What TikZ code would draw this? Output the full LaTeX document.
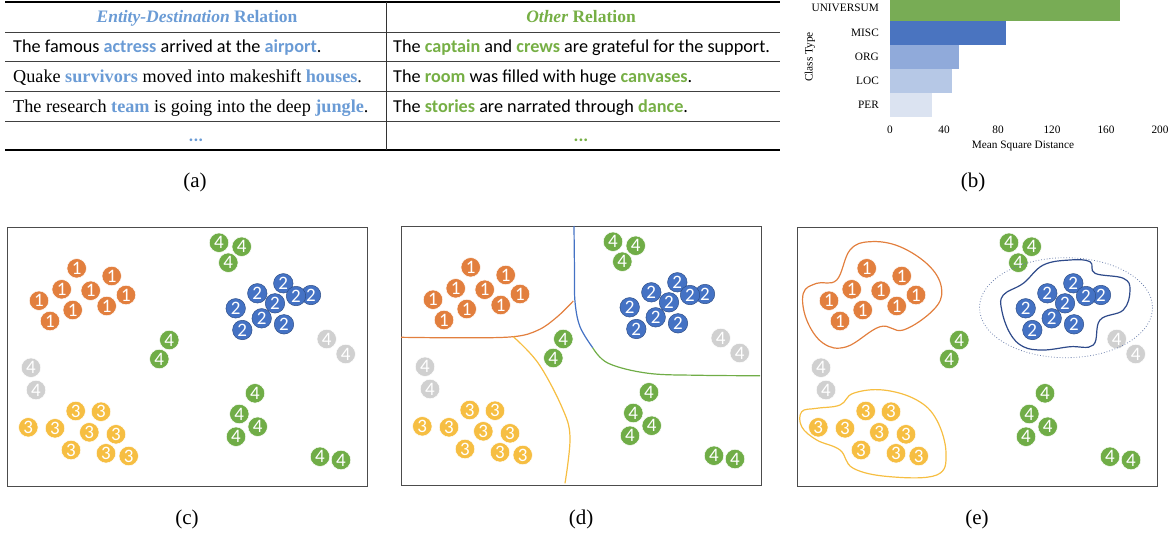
\documentclass[tikz,border=0pt]{standalone}
\usepackage{fontspec}
\setmainfont{Liberation Serif}
\newfontfamily\carlito{Carlito}
\definecolor{tblue}{HTML}{6A9BD5}
\definecolor{tgreen}{HTML}{76AF45}
\definecolor{oC}{HTML}{E27F3E}
\definecolor{bC}{HTML}{4472C4}
\definecolor{yC}{HTML}{F6BE42}
\definecolor{gC}{HTML}{70AD47}
\definecolor{grC}{HTML}{D0D0D0}
\definecolor{navy}{HTML}{2E4A8A}
\definecolor{barG}{HTML}{78AC55}
\definecolor{barB1}{HTML}{4A74C0}
\definecolor{barB2}{HTML}{90AADA}
\definecolor{barB3}{HTML}{B6C8E6}
\definecolor{barB4}{HTML}{DBE3F1}
\newcommand\hb[1]{\textbf{\color{tblue}#1}}
\newcommand\hg[1]{\textbf{\color{tgreen}#1}}
\tikzset{
  ball/.style={circle, minimum size=19.5pt, inner sep=0pt, text=white,
    font=\carlito\fontsize{19}{19}\selectfont, draw=white, line width=0.5pt},
  d1/.style={ball, fill=oC},
  d2/.style={ball, fill=bC, draw=bC!70!black},
  d3/.style={ball, fill=yC},
  d4/.style={ball, fill=gC},
  d5/.style={ball, fill=grC},
  panel/.style={draw=black!70, line width=0.9pt},
  curve/.style={line width=1.2pt},
  rowtxt/.style={anchor=base west, inner sep=0pt, font=\fontsize{18.2}{20}\selectfont},
  hdr/.style={anchor=base, inner sep=0pt, font=\fontsize{17.5}{20}\selectfont\bfseries},
  captxt/.style={inner sep=0pt, font=\fontsize{21}{23}\selectfont},
  smalltxt/.style={inner sep=0pt, font=\fontsize{11.3}{13}\selectfont},
}
\newcommand\clusterdots{%
  \foreach \x/\y [count=\i] in {69.7/41.3,104.7/49,54.7/62.3,83.7/63.7,119/68,32/73.7,65.7/83,99.7/79,43/94}
    {\node[d1] (o\i) at (\x,\y) {1};}
  \foreach \x/\y [count=\i] in {276.3/56.3,250.3/66.3,304/68,289/69,268/76.3,228.7/81.3,254.7/91.3,277/97.3,235.3/103}
    {\node[d2] (b\i) at (\x,\y) {2};}
  \foreach \x/\y [count=\i] in {68.7/184,94/184.7,21.3/200.3,48/201.3,82.3/205.3,109/207.3,64/223,99/226.3,121.7/229}
    {\node[d3] (y\i) at (\x,\y) {3};}
  \foreach \x/\y [count=\i] in {212/15.7,234.7/19.7,221.3/35.7,162.3/113,152.3/132,248/166.3,232.3/187,250.7/199.7,229/209.7,313/229.7,334/233}
    {\node[d4] (g\i) at (\x,\y) {4};}
  \foreach \x/\y [count=\i] in {319.7/112,338.7/127,24/140.7,29/163}
    {\node[d5] (n\i) at (\x,\y) {4};}
}
\begin{document}
\begin{tikzpicture}[x=1pt,y=-1pt]
\useasboundingbox (0,0) rectangle (1175,533);
% ---------------- table (a)
\draw[line width=1.6pt] (5,2) -- (780,2);
\draw[line width=1.6pt] (5,150) -- (780,150);
\foreach \yy in {32,61,91,121} {\draw[black!75, line width=0.9pt] (5,\yy) -- (780,\yy);}
\draw[black!80, line width=1pt] (386,2) -- (386,150);
\node[hdr, text=tblue] (h1) at (197,22) {\itshape Entity-Destination\/ \upshape Relation};
\node[hdr, text=tgreen] (h2) at (581,22) {\itshape Other\/ \upshape Relation};
\node[rowtxt] (l1) at (13,52) {\carlito The famous \hb{actress} arrived at the \hb{airport}.};
\node[rowtxt] (l2) at (13,82) {Quake \hb{survivors} moved into makeshift \hb{houses}.};
\node[rowtxt] (l3) at (13,112) {The research \hb{team} is going into the deep \hb{jungle}.};
\node[rowtxt, anchor=base] (l4) at (196,141) {\carlito\hb{...}};
\node[rowtxt] (r1) at (393,52) {\carlito The \hg{captain} and \hg{crews} are grateful for the support.};
\node[rowtxt] (r2) at (393,82) {\carlito The \hg{room} was filled with huge \hg{canvases}.};
\node[rowtxt] (r3) at (393,112) {\carlito The \hg{stories} are narrated through \hg{dance}.};
\node[rowtxt, anchor=base] (r4) at (581,141) {\carlito\hg{...}};
\node[captxt] (capa) at (195,182) {(a)};
% ---------------- bar chart (b)
\fill[barG]  (890,0) rectangle (1120,21);
\fill[barB1] (890,21) rectangle (1006,45);
\fill[barB2] (890,45) rectangle (959,69);
\fill[barB3] (890,69) rectangle (952,93);
\fill[barB4] (890,93) rectangle (932,117);
\foreach \lab/\yy in {UNIVERSUM/8,MISC/33,ORG/57,LOC/81,PER/105}
  {\node[smalltxt, anchor=east] (lab\lab) at (879,\yy) {\lab};}
\foreach \v [count=\i] in {0,40,80,120,160,200}
  {\node[smalltxt] (tick\i) at ({890+1.35*\v},130) {\v};}
\node[smalltxt] (xl) at (1023,146) {Mean Square Distance};
\node[smalltxt, rotate=90] (yl) at (810,57) {Class Type};
\node[captxt] (capb) at (973,182) {(b)};
% ---------------- panel (c)
\begin{scope}[shift={(7,227)}, name prefix=c-]
  \draw[panel] (0,0) rectangle (360,259);
  \clusterdots
\end{scope}
\node[captxt] (capc) at (187,519) {(c)};
% ---------------- panel (d)
\begin{scope}[shift={(401,226)}, name prefix=d-]
  \draw[panel] (0,0) rectangle (360,259);
  \draw[curve, oC] plot[smooth, tension=0.6] coordinates {(0,111.3) (60,111.8) (112.3,110.7) (137.3,104) (156,91) (172.3,75)};
  \draw[curve, bC] plot[smooth, tension=0.6] coordinates {(173,0) (173.5,45) (174,75.7) (179,100.7) (191.7,121.7)};
  \draw[curve, gC] plot[smooth, tension=0.6] coordinates {(191.7,121.7) (207.3,137.3) (247.3,147.3) (300,149.3) (359,149.7)};
  \draw[curve, yC] plot[smooth, tension=0.6] coordinates {(112.3,110.7) (137.3,137.3) (160.7,180.7) (169,210.7) (164,257.3)};
  \clusterdots
\end{scope}
\node[captxt] (capd) at (581,519) {(d)};
% ---------------- panel (e)
\begin{scope}[shift={(797,227)}, name prefix=e-]
  \draw[panel] (0,0) rectangle (360,259);
  \draw[curve, oC] plot[smooth cycle, tension=0.65] coordinates {(73,14.7) (103,19.7) (133,39.7) (144.7,63) (136.3,83) (106.3,103) (83,99.7) (49.7,119.7) (26.3,116.3) (9.7,93) (6.3,66.3) (19.7,56.3) (39.7,53) (53,23)};
  \draw[curve, yC] plot[smooth cycle, tension=0.65] coordinates {(4.7,184.7) (19.7,181.3) (43,178) (56.3,166.3) (86.3,163) (119.7,173) (139.7,193) (149,226.3) (139.7,248) (93,249.7) (56.3,241.3) (43,223) (19.7,213) (4.7,199.7)};
  \draw[curve, navy] plot[smooth cycle, tension=0.65] coordinates {(206.3,68) (226.3,56.3) (246.3,38) (273,33) (293,34.7) (298,46.3) (326.3,51.3) (333,63) (326.3,83) (303,93) (296.3,118) (273,119.7) (246.3,123) (226.3,119.7) (213,106.3) (204.7,83)};
  \clusterdots
  \draw[navy!70, line width=0.8pt, dotted] (269,80.7) ellipse [x radius=86.5, y radius=50];
\end{scope}
\node[captxt] (cape) at (977,519) {(e)};
\end{tikzpicture}
\end{document}
